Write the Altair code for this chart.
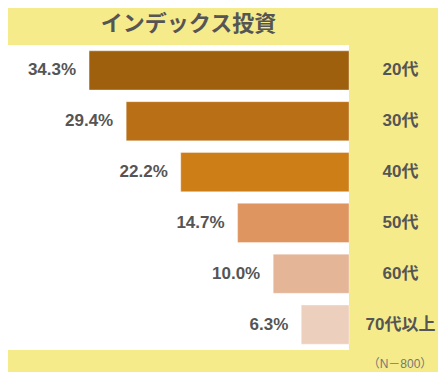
import altair as alt
import pandas as pd

categories = ["20代", "30代", "40代", "50代", "60代", "70代以上"]
values = [34.3, 29.4, 22.2, 14.7, 10.0, 6.3]
labels = ["34.3%", "29.4%", "22.2%", "14.7%", "10.0%", "6.3%"]
colors = ["#9F600E", "#B96F16", "#CD7E17", "#DF955F", "#E4B597", "#EDCFBE"]

df = pd.DataFrame({"cat": categories, "val": values, "lab": labels})

FONT = "Liberation Sans, Noto Sans CJK JP, sans-serif"
TXT = "#555555"

x = alt.X("val:Q", scale=alt.Scale(domain=[0, 45], reverse=True, nice=False), axis=None)
y = alt.Y("cat:N", sort=categories,
          scale=alt.Scale(paddingInner=0.23, paddingOuter=0.115),
          axis=alt.Axis(orient="right", title=None, domain=False, ticks=False,
                        labelAlign="center", labelPadding=51, labelFontSize=17,
                        labelFontWeight="bold", labelColor=TXT, labelFont=FONT))

bars = alt.Chart(df).mark_bar(stroke="#ffffff", strokeOpacity=0.35, strokeWidth=1).encode(
    x=x, y=y,
    color=alt.Color("cat:N", sort=categories,
                    scale=alt.Scale(domain=categories, range=colors), legend=None),
)

text = alt.Chart(df).mark_text(align="right", baseline="middle", dx=-13,
                               fontSize=17, fontWeight="bold", color=TXT, font=FONT).encode(
    x=x, y=y, text="lab:N")

note = alt.Chart(pd.DataFrame({"t": ["（N－800）"]})).mark_text(
    align="center", baseline="middle", fontSize=12, color="#777777", font=FONT
).encode(x=alt.value(392), y=alt.value(319), text="t:N")

chart = alt.layer(bars, text, note).properties(
    width=341, height=305,
    background="#F5EB8A",
    padding={"left": 0, "top": 37, "right": 89, "bottom": 22},
    autosize=alt.AutoSizeParams(type="none"),
    title=alt.TitleParams("インデックス投資", anchor="middle", dx=10, offset=9,
                          fontSize=22, fontWeight="bold", color=TXT,
                          font=FONT),
).configure_view(fill="#FFFFFF", stroke=None)

chart.save("out.html", embed_options={"renderer": "svg", "actions": False})
